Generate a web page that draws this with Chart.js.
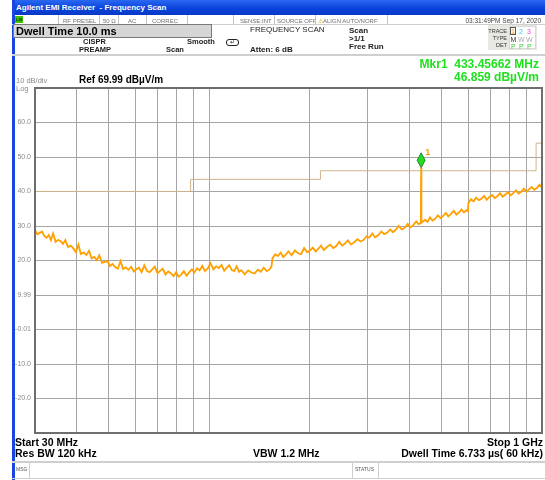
<!DOCTYPE html>
<html>
<head>
<meta charset="utf-8">
<script src="https://cdn.jsdelivr.net/npm/chart.js"></script>
<style>
  body { margin: 0; background: #fff; font-family: "Liberation Sans", Arial, sans-serif; }
  #wrap { position: relative; width: 545px; height: 480px; overflow: hidden; background: #fff; }
  #chart { position: absolute; left: 0; top: 0; }
  .t { position: absolute; line-height: 1; white-space: nowrap; }
  .b { font-weight: bold; }
  .st { font-size: 6px; color: #707070; top: 17.5px; }
  .vs { position: absolute; top: 15px; width: 1px; height: 9px; background: #c4c4c4; }
  .hl { position: absolute; left: 12px; width: 533px; background: #cfcfcf; }
  .tb { font-size: 5.5px; color: #333; text-align: right; width: 20px; left: 487px; }
  .tv { font-size: 7px; }
</style>
</head>
<body>
<div id="wrap">
  <canvas id="chart" width="545" height="480"></canvas>

  <!-- window chrome -->
  <div style="position:absolute;left:12px;top:0;width:533px;height:15px;background:linear-gradient(#2a68f2,#0a44dc 55%,#0838c4);"></div>
  <div style="position:absolute;left:12px;top:0;width:3px;height:480px;background:#1846e0;"></div>
  <div class="t b" style="left:16px;top:4px;font-size:8px;color:#fff;">Agilent EMI Receiver&nbsp; - Frequency Scan</div>

  <!-- status row -->
  <div style="position:absolute;left:15px;top:16px;width:8px;height:7px;background:#3fbf00;"></div>
  <div class="t" style="left:16px;top:17.5px;font-size:4px;color:#083008;font-weight:bold;">LXI</div>
  <div class="vs" style="left:58px"></div>
  <div class="t st" style="left:63px">RF PRESEL</div>
  <div class="vs" style="left:99px"></div>
  <div class="t st" style="left:103px">50 Ω</div>
  <div class="vs" style="left:118px"></div>
  <div class="t st" style="left:128px">AC</div>
  <div class="vs" style="left:146px"></div>
  <div class="t st" style="left:152px">CORREC</div>
  <div class="vs" style="left:187px"></div>
  <div class="vs" style="left:233px"></div>
  <div class="t st" style="left:240px">SENSE:INT</div>
  <div class="vs" style="left:274px"></div>
  <div class="t st" style="left:277px">SOURCE OFF</div>
  <div class="vs" style="left:315px"></div>
  <div class="t st" style="left:318px"><span style="color:#c8a000">⚠</span>ALIGN AUTO/NORF</div>
  <div class="vs" style="left:387px"></div>
  <div class="t st" style="right:4px;color:#444;font-size:6.5px;">03:31:49PM Sep 17, 2020</div>
  <div class="hl" style="top:24px;height:1px;"></div>

  <!-- settings block -->
  <div style="position:absolute;left:13px;top:24px;width:197px;height:12px;background:#d6d6d6;border:1px solid #7a7a7a;"></div>
  <div class="t b" style="left:16px;top:26px;font-size:11px;color:#000;">Dwell Time 10.0 ms</div>
  <div class="t" style="left:250px;top:26px;font-size:8px;color:#222;">FREQUENCY SCAN</div>
  <div class="t b" style="left:83px;top:38px;font-size:7.5px;color:#222;">CISPR</div>
  <div class="t b" style="left:79px;top:45.5px;font-size:7.5px;color:#222;">PREAMP</div>
  <div class="t b" style="left:187px;top:38px;font-size:7.5px;color:#222;">Smooth</div>
  <div class="t b" style="left:166px;top:46px;font-size:7.5px;color:#222;">Scan</div>
  <div style="position:absolute;left:226px;top:39px;width:11px;height:5px;border:1px solid #222;border-radius:3px;"></div>
  <div class="t" style="left:230px;top:39px;font-size:6px;color:#222;">↵</div>
  <div class="t b" style="left:250px;top:46px;font-size:8px;color:#222;">Atten: 6 dB</div>
  <div class="t b" style="left:349px;top:26.5px;font-size:8px;color:#222;">Scan</div>
  <div class="t b" style="left:349px;top:34.5px;font-size:8px;color:#222;">&gt;1/1</div>
  <div class="t b" style="left:349px;top:42.5px;font-size:8px;color:#222;">Free Run</div>

  <!-- trace box -->
  <div style="position:absolute;left:488px;top:25px;width:49px;height:25px;background:#e8e8e2;"></div>
  <div style="position:absolute;left:509px;top:26px;width:27px;height:23px;background:#fff;border:1px solid #d8d8d8;box-sizing:border-box;"></div>
  <div class="t tb" style="top:29px">TRACE</div>
  <div class="t tb" style="top:35.5px">TYPE</div>
  <div class="t tb" style="top:42.5px">DET</div>
  <div style="position:absolute;left:510px;top:27px;width:6px;height:8px;border:1px solid #555;box-sizing:border-box;"></div>
  <div class="t tv" style="left:511px;top:28px;color:#ff9a00;">1</div>
  <div class="t tv" style="left:519px;top:28px;color:#2ad0e8;">2</div>
  <div class="t tv" style="left:527px;top:28px;color:#ff3ce0;">3</div>
  <div class="t tv" style="left:510.5px;top:35.5px;color:#333;">M</div>
  <div class="t tv" style="left:518px;top:35.5px;color:#aaa;">W</div>
  <div class="t tv" style="left:526px;top:35.5px;color:#aaa;">W</div>
  <div class="t tv" style="left:511px;top:42.5px;color:#3ccc3c;">P</div>
  <div class="t tv" style="left:519px;top:42.5px;color:#3ccc3c;">P</div>
  <div class="t tv" style="left:527px;top:42.5px;color:#3ccc3c;">P</div>

  <div class="hl" style="top:54px;height:2px;"></div>

  <!-- marker readout and scale info -->
  <div class="t b" style="right:6px;top:58px;font-size:12px;color:#1ee01e;">Mkr1&nbsp; 433.45662 MHz</div>
  <div class="t b" style="right:6px;top:70.5px;font-size:12px;color:#1ee01e;">46.859 dBµV/m</div>
  <div class="t" style="left:16px;top:77px;font-size:7.5px;color:#8a8a8a;">10 dB/div</div>
  <div class="t" style="left:16px;top:84.5px;font-size:7.5px;color:#8a8a8a;">Log</div>
  <div class="t b" style="left:79px;top:75px;font-size:10px;color:#000;">Ref 69.99 dBµV/m</div>

  <!-- bottom annotations -->
  <div class="t b" style="left:15px;top:437px;font-size:10.5px;color:#000;">Start 30 MHz</div>
  <div class="t b" style="right:2px;top:437px;font-size:10.5px;color:#000;">Stop 1 GHz</div>
  <div class="t b" style="left:15px;top:447.5px;font-size:10.5px;color:#000;">Res BW 120 kHz</div>
  <div class="t b" style="left:253px;top:447.5px;font-size:10.5px;color:#000;">VBW 1.2 MHz</div>
  <div class="t b" style="right:2px;top:447.5px;font-size:10.5px;color:#000;">Dwell Time 6.733 µs( 60 kHz)</div>

  <div class="hl" style="top:461px;height:2px;"></div>
  <div style="position:absolute;left:29px;top:463px;width:1px;height:15px;background:#cfcfcf;"></div>
  <div class="t" style="left:16px;top:467px;font-size:5px;color:#555;">MSG</div>
  <div style="position:absolute;left:352px;top:463px;width:1px;height:15px;background:#cfcfcf;"></div>
  <div style="position:absolute;left:378px;top:463px;width:1px;height:15px;background:#cfcfcf;"></div>
  <div class="t" style="left:355px;top:467px;font-size:5px;color:#555;">STATUS</div>
  <div class="hl" style="top:478px;height:1px;"></div>
</div>

<script>
// Trace 1 (max hold, peak), MHz / dBuV/m
const traceFreqs = [
  30, 30.5, 31, 31.5, 32, 32.5, 33, 33.5, 34, 34.6, 35.2, 35.8, 36.4, 37, 37.7, 38.4, 39.1, 39.8, 40.5, 41.2,
  42, 42.8, 43.6, 44.4, 45.2, 46, 46.8, 47.7, 48.6, 49.5, 50.4, 51.3, 52.2, 53.2, 54.2, 55.2, 56.2, 57.2, 58.3, 59.4,
  60.5, 61.6, 62.7, 63.9, 65.1, 66.3, 67.5, 68.7, 70, 71.3, 72.6, 74, 75.4, 76.8, 78.2, 79.6, 81, 82.5, 84, 85.6,
  87.2, 88.8, 90.4, 92, 93.7, 95.4, 97.2, 99, 101, 103, 105, 107, 109, 111, 113, 115, 117, 119, 121, 123,
  125, 128, 131, 134, 137, 140, 143, 146, 149, 152, 154,
  155, 158, 161, 164, 167, 170, 173, 177, 181, 185, 189, 193, 197, 201, 205, 209, 213, 217, 221, 226,
  231, 236, 241, 246, 251, 256, 261, 267, 273, 279, 285, 291, 297, 303, 309, 315, 322, 329, 336, 343,
  350, 357, 364, 371, 379, 387, 395, 403, 411, 419, 426, 432.6, 433.46,
  434.3, 445, 453, 461, 469, 478, 487, 496, 505, 514, 523, 533, 543, 553, 563, 573, 583, 593, 599,
  601, 612, 623, 634, 646, 658, 670, 682, 695, 708, 721, 734, 748, 762, 776, 790, 805, 820, 835, 850,
  866, 882, 898, 914, 931, 948, 965, 982, 995, 1000
];
const traceLevels = [
  28.8, 27.6, 28.0, 28.4, 27.1, 26.6, 27.4, 25.9, 27.8, 25.4, 26.0, 25.6, 24.8, 25.9, 23.9, 24.3, 23.5, 22.4, 24.6, 21.9,
  22.3, 21.6, 22.8, 20.6, 21.0, 20.1, 21.5, 19.3, 19.6, 19.9, 18.4, 19.0, 18.1, 17.6, 19.8, 17.5, 18.0, 17.3, 18.2, 16.8,
  17.5, 17.9, 16.6, 18.6, 16.9, 16.6, 17.4, 18.2, 16.3, 17.0, 17.6, 15.9, 16.8, 16.3, 15.4, 16.6, 15.3, 15.9, 16.9, 15.6,
  16.6, 17.4, 16.5, 17.7, 17.1, 18.4, 16.9, 17.6, 19.2, 17.4, 18.3, 17.8, 18.7, 17.0, 17.9, 18.6, 17.2, 16.9, 18.3, 16.7,
  17.2, 16.0, 17.1, 16.5, 16.2, 17.3, 16.7, 17.9, 16.9, 17.4, 18.3,
  20.6, 21.8, 21.3, 22.3, 21.0, 21.7, 22.6, 21.5, 22.9, 22.1, 21.8, 23.6, 22.4, 22.9, 23.7, 22.6, 23.4, 24.3, 23.0, 23.9,
  24.6, 23.6, 24.2, 25.4, 24.3, 24.9, 25.8, 24.6, 25.3, 26.2, 25.5, 25.9, 27.0, 26.6, 27.8, 26.7, 27.3, 28.4, 27.6, 28.1,
  29.0, 28.2, 28.9, 30.0, 29.0, 29.5, 30.6, 29.6, 30.3, 31.3, 30.5, 31.0, 46.859,
  30.9, 31.8, 31.2, 32.5, 31.6, 32.1, 33.1, 32.3, 32.9, 33.8, 32.8, 33.5, 34.4, 33.3, 33.9, 34.8, 33.9, 34.6, 34.3,
  36.6, 37.8, 37.1, 38.2, 37.5, 37.9, 38.7, 37.6, 38.4, 39.0, 38.1, 38.6, 39.5, 38.5, 39.1, 39.8, 38.9, 39.5, 40.3, 39.4,
  39.9, 40.8, 39.9, 40.6, 41.3, 40.5, 41.0, 41.9, 41.3, 42.8
];

// Limit line (stepped)
const limitFreqs = [30, 88, 88, 216, 216, 960, 960, 1000];
const limitLevels = [40, 40, 43.5, 43.5, 46, 46, 54, 54];

// Marker 1
const markerFreq = 433.45662;
const markerLevel = 46.859;

// Graticule
const gridFreqs = [30, 40, 50, 60, 70, 80, 90, 100, 200, 300, 400, 500, 600, 700, 800, 900, 1000];
const yTickValues = [69.99, 59.99, 49.99, 39.99, 29.99, 19.99, 9.99, -0.01, -10.01, -20.01, -30.01];
const yTickLabels = ['', '60.0', '50.0', '40.0', '30.0', '20.0', '9.99', '-0.01', '-10.0', '-20.0', ''];

const tracePoints = traceFreqs.map((f, i) => ({ x: f, y: traceLevels[i] }));
const limitPoints = limitFreqs.map((f, i) => ({ x: f, y: limitLevels[i] }));

// frame around the plot area
const framePlugin = {
  id: 'frame',
  afterDraw(chart) {
    const a = chart.chartArea;
    const ctx = chart.ctx;
    ctx.save();
    ctx.strokeStyle = '#6e6e6e';
    ctx.lineWidth = 2;
    ctx.strokeRect(a.left, a.top, a.right - a.left, a.bottom - a.top);
    ctx.restore();
  }
};

// green diamond marker sitting on the trace point
const markerPlugin = {
  id: 'marker',
  afterDatasetsDraw(chart) {
    const x = chart.scales.x.getPixelForValue(markerFreq);
    const y = chart.scales.y.getPixelForValue(markerLevel);
    const ctx = chart.ctx;
    ctx.save();
    ctx.beginPath();
    ctx.moveTo(x, y);
    ctx.lineTo(x - 4, y - 7.5);
    ctx.lineTo(x, y - 15);
    ctx.lineTo(x + 4, y - 7.5);
    ctx.closePath();
    ctx.fillStyle = '#22dd22';
    ctx.fill();
    ctx.strokeStyle = '#1a6a1a';
    ctx.lineWidth = 0.8;
    ctx.stroke();
    ctx.fillStyle = '#ff9a00';
    ctx.font = 'bold 9px "Liberation Sans", Arial, sans-serif';
    ctx.fillText('1', x + 4, y - 13);
    ctx.restore();
  }
};

new Chart(document.getElementById('chart'), {
  type: 'line',
  data: {
    datasets: [
      {
        label: 'Limit',
        data: limitPoints,
        borderColor: 'rgb(205,180,140)',
        borderWidth: 1,
        pointRadius: 0,
        tension: 0
      },
      {
        label: 'Trace 1',
        data: tracePoints,
        borderColor: '#ffa000',
        borderWidth: 1.8,
        pointRadius: 0,
        tension: 0
      }
    ]
  },
  options: {
    responsive: false,
    animation: false,
    events: [],
    layout: { padding: { top: 88, right: 3, left: 0, bottom: 0 } },
    plugins: {
      legend: { display: false },
      tooltip: { enabled: false }
    },
    scales: {
      x: {
        type: 'logarithmic',
        min: 30,
        max: 1000,
        border: { display: false },
        grid: { color: '#a6a6a6', lineWidth: 1, drawTicks: false },
        ticks: { display: false },
        afterBuildTicks: scale => { scale.ticks = gridFreqs.map(v => ({ value: v })); },
        afterFit: scale => { scale.height = 47; }
      },
      y: {
        type: 'linear',
        min: -30.01,
        max: 69.99,
        border: { display: false },
        grid: { color: '#a6a6a6', lineWidth: 1, drawTicks: false },
        ticks: {
          padding: 4,
          color: '#8c8c8c',
          font: { size: 7, family: '"Liberation Sans", Arial, sans-serif' },
          callback: (v, i) => yTickLabels[i]
        },
        afterBuildTicks: scale => { scale.ticks = yTickValues.map(v => ({ value: v })); },
        afterFit: scale => { scale.width = 35; }
      }
    }
  },
  plugins: [framePlugin, markerPlugin]
});
</script>
</body>
</html>
